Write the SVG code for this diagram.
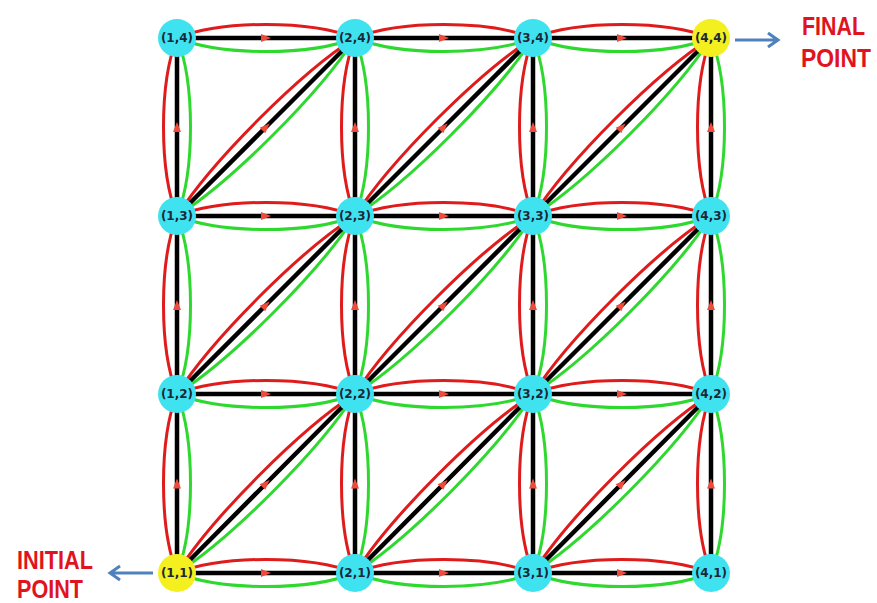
<svg xmlns="http://www.w3.org/2000/svg" width="877" height="603" viewBox="0 0 877 603">
<style>
.r{fill:none;stroke:#e01b1b;stroke-width:3}
.g{fill:none;stroke:#2fd82f;stroke-width:3}
.k{fill:none;stroke:#000;stroke-width:4.5;marker-mid:url(#a)}
.n{fill:#3fe3f0}
.y{fill:#f4ef1e}
.t{font-family:"DejaVu Sans",sans-serif;font-weight:bold;font-size:12px;fill:#1b2838;text-anchor:middle}
.lbl{font-family:"Liberation Sans",Arial,sans-serif;font-weight:bold;font-size:25px;fill:#e0141e}
.b{fill:none;stroke:#4f81bd;stroke-width:3}
</style>
<defs>
<marker id="a" viewBox="0 0 10 10" refX="5" refY="5" markerWidth="12" markerHeight="10" markerUnits="userSpaceOnUse" orient="auto">
<path d="M0,1 L10,5 L0,9 z" fill="#f04a3a"/>
</marker>
</defs>
<rect width="877" height="603" fill="#fff"/>
<g id="connectors">
<path class="r" d="M177,38 C222,20 310,20 355,38 M355,38 C400,20 488,20 533,38 M533,38 C578,20 666,20 711,38"/>
<path class="r" d="M177,216 C222,198 310,198 355,216 M355,216 C400,198 488,198 533,216 M533,216 C578,198 666,198 711,216"/>
<path class="r" d="M177,394 C222,376 310,376 355,394 M355,394 C400,376 488,376 533,394 M533,394 C578,376 666,376 711,394"/>
<path class="r" d="M177,573 C222,555 310,555 355,573 M355,573 C400,555 488,555 533,573 M533,573 C578,555 666,555 711,573"/>
<path class="g" d="M177,38 C222,56 310,56 355,38 M355,38 C400,56 488,56 533,38 M533,38 C578,56 666,56 711,38"/>
<path class="g" d="M177,216 C222,234 310,234 355,216 M355,216 C400,234 488,234 533,216 M533,216 C578,234 666,234 711,216"/>
<path class="g" d="M177,394 C222,412 310,412 355,394 M355,394 C400,412 488,412 533,394 M533,394 C578,412 666,412 711,394"/>
<path class="g" d="M177,573 C222,591 310,591 355,573 M355,573 C400,591 488,591 533,573 M533,573 C578,591 666,591 711,573"/>
<path class="r" d="M177,573 C159,528 159,439 177,394 M177,394 C159,349 159,261 177,216 M177,216 C159,171 159,83 177,38"/>
<path class="r" d="M355,573 C337,528 337,439 355,394 M355,394 C337,349 337,261 355,216 M355,216 C337,171 337,83 355,38"/>
<path class="r" d="M533,573 C515,528 515,439 533,394 M533,394 C515,349 515,261 533,216 M533,216 C515,171 515,83 533,38"/>
<path class="r" d="M711,573 C693,528 693,439 711,394 M711,394 C693,349 693,261 711,216 M711,216 C693,171 693,83 711,38"/>
<path class="g" d="M177,573 C195,528 195,439 177,394 M177,394 C195,349 195,261 177,216 M177,216 C195,171 195,83 177,38"/>
<path class="g" d="M355,573 C373,528 373,439 355,394 M355,394 C373,349 373,261 355,216 M355,216 C373,171 373,83 355,38"/>
<path class="g" d="M533,573 C551,528 551,439 533,394 M533,394 C551,349 551,261 533,216 M533,216 C551,171 551,83 533,38"/>
<path class="g" d="M711,573 C729,528 729,439 711,394 M711,394 C729,349 729,261 711,216 M711,216 C729,171 729,83 711,38"/>
<path class="r" d="M177,216 C211.5,161.5 300.5,72.5 355,38 M355,216 C389.5,161.5 478.5,72.5 533,38 M533,216 C567.5,161.5 656.5,72.5 711,38"/>
<path class="r" d="M177,394 C211.5,339.5 300.5,250.5 355,216 M355,394 C389.5,339.5 478.5,250.5 533,216 M533,394 C567.5,339.5 656.5,250.5 711,216"/>
<path class="r" d="M177,573 C211.5,518.25 300.5,428.75 355,394 M355,573 C389.5,518.25 478.5,428.75 533,394 M533,573 C567.5,518.25 656.5,428.75 711,394"/>
<path class="g" d="M177,216 C231.5,181.5 320.5,92.5 355,38 M355,216 C409.5,181.5 498.5,92.5 533,38 M533,216 C587.5,181.5 676.5,92.5 711,38"/>
<path class="g" d="M177,394 C231.5,359.5 320.5,270.5 355,216 M355,394 C409.5,359.5 498.5,270.5 533,216 M533,394 C587.5,359.5 676.5,270.5 711,216"/>
<path class="g" d="M177,573 C231.5,538.25 320.5,448.75 355,394 M355,573 C409.5,538.25 498.5,448.75 533,394 M533,573 C587.5,538.25 676.5,448.75 711,394"/>
<path class="k" d="M177,38 L266,38 L355,38"/><path class="k" d="M355,38 L444,38 L533,38"/><path class="k" d="M533,38 L622,38 L711,38"/>
<path class="k" d="M177,216 L266,216 L355,216"/><path class="k" d="M355,216 L444,216 L533,216"/><path class="k" d="M533,216 L622,216 L711,216"/>
<path class="k" d="M177,394 L266,394 L355,394"/><path class="k" d="M355,394 L444,394 L533,394"/><path class="k" d="M533,394 L622,394 L711,394"/>
<path class="k" d="M177,573 L266,573 L355,573"/><path class="k" d="M355,573 L444,573 L533,573"/><path class="k" d="M533,573 L622,573 L711,573"/>
<path class="k" d="M177,573 L177,483.5 L177,394"/><path class="k" d="M177,394 L177,305 L177,216"/><path class="k" d="M177,216 L177,127 L177,38"/>
<path class="k" d="M355,573 L355,483.5 L355,394"/><path class="k" d="M355,394 L355,305 L355,216"/><path class="k" d="M355,216 L355,127 L355,38"/>
<path class="k" d="M533,573 L533,483.5 L533,394"/><path class="k" d="M533,394 L533,305 L533,216"/><path class="k" d="M533,216 L533,127 L533,38"/>
<path class="k" d="M711,573 L711,483.5 L711,394"/><path class="k" d="M711,394 L711,305 L711,216"/><path class="k" d="M711,216 L711,127 L711,38"/>
<path class="k" d="M177,216 L266,127 L355,38"/><path class="k" d="M355,216 L444,127 L533,38"/><path class="k" d="M533,216 L622,127 L711,38"/>
<path class="k" d="M177,394 L266,305 L355,216"/><path class="k" d="M355,394 L444,305 L533,216"/><path class="k" d="M533,394 L622,305 L711,216"/>
<path class="k" d="M177,573 L266,483.5 L355,394"/><path class="k" d="M355,573 L444,483.5 L533,394"/><path class="k" d="M533,573 L622,483.5 L711,394"/>
<path class="b" d="M735,40 L778,40 M768,33 L778,40 L768,47"/>
<path class="b" d="M153,573 L110,573 M120,566 L110,573 L120,580"/>
</g>
<g id="n14"><circle class="n" cx="177" cy="38" r="19"/><text class="t" x="177" y="42">(1,4)</text></g>
<g id="n24"><circle class="n" cx="355" cy="38" r="19"/><text class="t" x="355" y="42">(2,4)</text></g>
<g id="n34"><circle class="n" cx="533" cy="38" r="19"/><text class="t" x="533" y="42">(3,4)</text></g>
<g id="n44"><circle class="y" cx="711" cy="38" r="19"/><text class="t" x="711" y="42">(4,4)</text></g>
<g id="n13"><circle class="n" cx="177" cy="216" r="19"/><text class="t" x="177" y="220">(1,3)</text></g>
<g id="n23"><circle class="n" cx="355" cy="216" r="19"/><text class="t" x="355" y="220">(2,3)</text></g>
<g id="n33"><circle class="n" cx="533" cy="216" r="19"/><text class="t" x="533" y="220">(3,3)</text></g>
<g id="n43"><circle class="n" cx="711" cy="216" r="19"/><text class="t" x="711" y="220">(4,3)</text></g>
<g id="n12"><circle class="n" cx="177" cy="394" r="19"/><text class="t" x="177" y="398">(1,2)</text></g>
<g id="n22"><circle class="n" cx="355" cy="394" r="19"/><text class="t" x="355" y="398">(2,2)</text></g>
<g id="n32"><circle class="n" cx="533" cy="394" r="19"/><text class="t" x="533" y="398">(3,2)</text></g>
<g id="n42"><circle class="n" cx="711" cy="394" r="19"/><text class="t" x="711" y="398">(4,2)</text></g>
<g id="n11"><circle class="y" cx="177" cy="573" r="19"/><text class="t" x="177" y="577">(1,1)</text></g>
<g id="n21"><circle class="n" cx="355" cy="573" r="19"/><text class="t" x="355" y="577">(2,1)</text></g>
<g id="n31"><circle class="n" cx="533" cy="573" r="19"/><text class="t" x="533" y="577">(3,1)</text></g>
<g id="n41"><circle class="n" cx="711" cy="573" r="19"/><text class="t" x="711" y="577">(4,1)</text></g>
<g id="final-label"><text class="lbl" x="802" y="35" textLength="63" lengthAdjust="spacingAndGlyphs">FINAL</text><text class="lbl" x="801" y="67" textLength="70" lengthAdjust="spacingAndGlyphs">POINT</text></g>
<g id="initial-label"><text class="lbl" x="17" y="569" textLength="76" lengthAdjust="spacingAndGlyphs">INITIAL</text><text class="lbl" x="17" y="598" textLength="66" lengthAdjust="spacingAndGlyphs">POINT</text></g>
</svg>
